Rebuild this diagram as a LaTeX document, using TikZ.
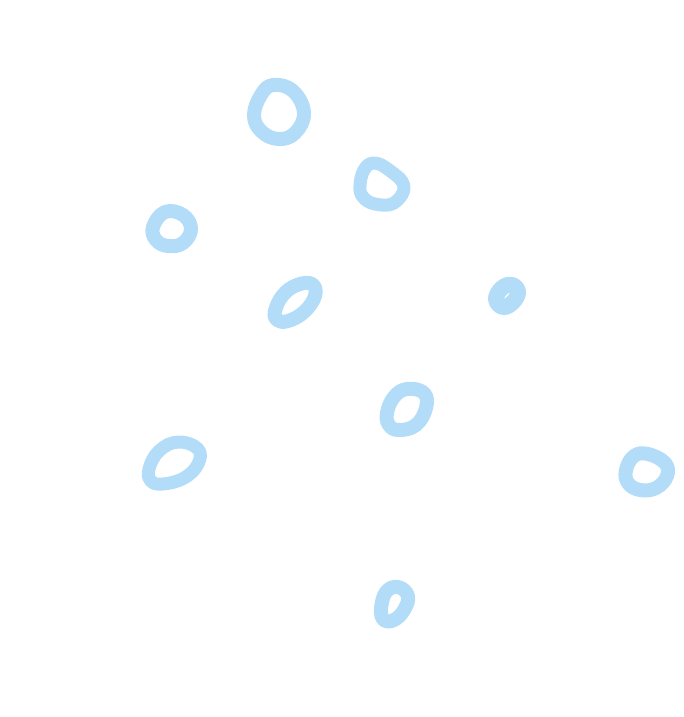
\documentclass[tikz,border=0pt]{standalone}
\usetikzlibrary{calc}

\definecolor{bubbleblue}{RGB}{178,220,247}

\tikzset{
    bubble/.style={draw=bubbleblue, line width=#1, line join=round},
    bubble/.default=14pt
}

\begin{document}
\begin{tikzpicture}[x=1pt, y=-1pt]

    \useasboundingbox (0,0) rectangle (684,717);

    % upper group
    \draw[bubble] plot[smooth cycle, tension=0.7] coordinates {(254,115) (261,95) (273,85) (293,91) (304,113) (295,133) (278,139) (261,131)};
    \draw[bubble=13pt] plot[smooth cycle, tension=0.7] coordinates {(360,186) (364,170) (374,163) (389,170) (404,186) (394,203) (375,204) (363,197)};
    \draw[bubble] plot[smooth cycle, tension=0.7] coordinates {(153,227) (165,212) (183,215) (191,229) (183,243) (168,246) (156,240)};
    \draw[bubble] plot[smooth cycle, tension=0.7] coordinates {(275,311) (283,295) (297,285) (312,284) (315,296) (304,312) (288,321) (277,320)};
    \draw[bubble=16pt] plot[smooth cycle, tension=0.7] coordinates {(496,299) (502,288) (512,285) (518,292) (513,302) (503,307)};

    % middle and lower group
    \draw[bubble] plot[smooth cycle, tension=0.7] coordinates {(387,413) (394,397) (407,389) (424,393) (426,408) (416,425) (399,430) (389,425)};
    \draw[bubble=13pt] plot[smooth cycle, tension=0.7] coordinates {(149,469) (159,451) (178,442) (198,449) (198,464) (184,478) (163,484) (151,481)};
    \draw[bubble] plot[smooth cycle, tension=0.7] coordinates {(626,470) (634,456) (648,454) (665,463) (667,476) (656,488) (640,490) (628,483)};
    \draw[bubble] plot[smooth cycle, tension=0.7] coordinates {(381,609) (386,592) (398,587) (408,596) (404,610) (394,620) (384,620)};

\end{tikzpicture}
\end{document}
